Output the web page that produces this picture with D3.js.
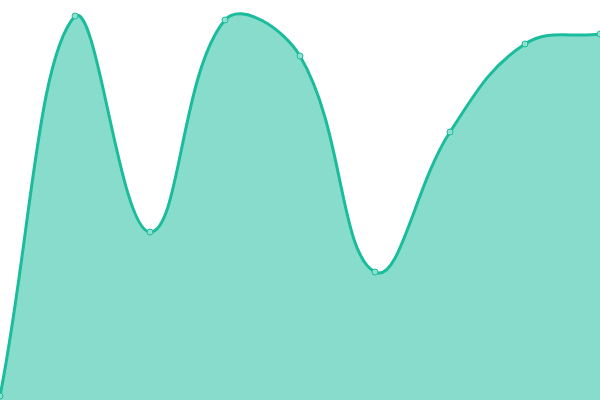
<!DOCTYPE html>
<html>
<head>
<meta charset="utf-8">
<script src="https://cdn.jsdelivr.net/npm/d3@7"></script>
<style>
  body { margin: 0; background: #fff; }
  svg { display: block; }
</style>
</head>
<body>
<div id="chart"></div>
<script>
// data
const labels = ["1", "2", "3", "4", "5", "6", "7", "8", "9"];
const values = [1, 96, 42, 95, 86, 32, 67, 89, 91.5];

let svgWidth = 600;
let svgHeight = 400;
let tension = 0.4;

let svg = d3.select("#chart")
    .append("svg")
    .attr("width", svgWidth)
    .attr("height", svgHeight);

// scales
let xScale = d3.scalePoint()
    .domain(labels)
    .range([0, svgWidth]);
let yScale = d3.scaleLinear()
    .domain([0, 100])
    .range([svgHeight, 0]);

// spline with distance weighted control points, capped to the drawing area
function SplineCurve(context) {
    this._context = context;
}
SplineCurve.prototype = {
    areaStart() { this._line = 0; },
    areaEnd() { this._line = NaN; },
    lineStart() { this._pts = []; },
    point(x, y) { this._pts.push([+x, +y]); },
    lineEnd() {
        let p = this._pts, n = p.length, ctx = this._context;
        let clampX = v => Math.max(0, Math.min(svgWidth, v));
        let clampY = v => Math.max(0, Math.min(svgHeight, v));
        let cps = p.map((cur, i) => {
            let prev = p[i - 1] || cur, next = p[i + 1] || cur;
            let d01 = Math.hypot(cur[0] - prev[0], cur[1] - prev[1]);
            let d12 = Math.hypot(next[0] - cur[0], next[1] - cur[1]);
            let s01 = d01 / (d01 + d12 || 1), s12 = d12 / (d01 + d12 || 1);
            let fa = tension * s01, fb = tension * s12;
            let dx = next[0] - prev[0], dy = next[1] - prev[1];
            return {
                inX: clampX(cur[0] - fa * dx), inY: clampY(cur[1] - fa * dy),
                outX: clampX(cur[0] + fb * dx), outY: clampY(cur[1] + fb * dy)
            };
        });
        p.forEach((cur, i) => {
            if (i === 0) {
                this._line ? ctx.lineTo(cur[0], cur[1]) : ctx.moveTo(cur[0], cur[1]);
            } else {
                ctx.bezierCurveTo(cps[i - 1].outX, cps[i - 1].outY, cps[i].inX, cps[i].inY, cur[0], cur[1]);
            }
        });
        if (this._line || (this._line !== 0 && n === 1)) ctx.closePath();
        this._line = 1 - this._line;
    }
};
let curve = context => new SplineCurve(context);

// area fill
let area = d3.area()
    .x((d, i) => xScale(labels[i]))
    .y0(yScale(0))
    .y1(d => yScale(d))
    .curve(curve);

svg.append("path")
    .datum(values)
    .attr("d", area)
    .attr("fill", "rgba(26,188,156,0.52)");

// line on top
let line = d3.line()
    .x((d, i) => xScale(labels[i]))
    .y(d => yScale(d))
    .curve(curve);

svg.append("path")
    .datum(values)
    .attr("d", line)
    .attr("fill", "none")
    .attr("stroke", "#1abc9c")
    .attr("stroke-width", 3);

// points
svg.selectAll("circle")
    .data(values)
    .enter()
    .append("circle")
    .attr("cx", (d, i) => xScale(labels[i]))
    .attr("cy", d => yScale(d))
    .attr("r", 3)
    .attr("fill", "#8fe0d0")
    .attr("stroke", "#1abc9c")
    .attr("stroke-width", 1);
</script>
</body>
</html>
